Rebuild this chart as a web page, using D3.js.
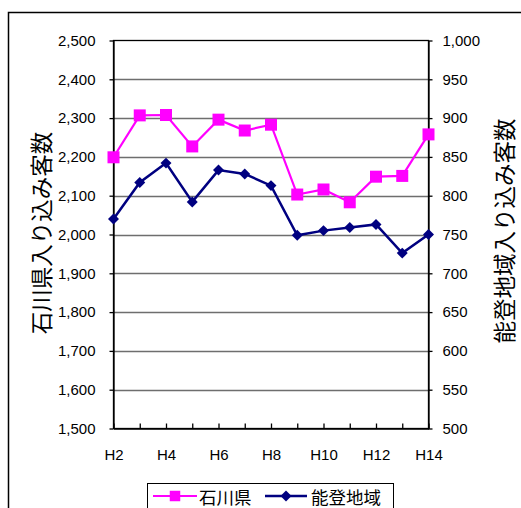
<!DOCTYPE html>
<html>
<head>
<meta charset="utf-8">
<script src="https://cdn.jsdelivr.net/npm/d3@7"></script>
<style>
  html, body { margin: 0; padding: 0; background: #fff; }
  svg { display: block; }
  text { font-family: "Liberation Sans", Arial, sans-serif; fill: #000; }
  .jp { font-family: "Noto Sans CJK JP", sans-serif; }
</style>
</head>
<body>
<script>
// Fiscal years (Heisei)
const years = ["H2","H3","H4","H5","H6","H7","H8","H9","H10","H11","H12","H13","H14"];
// 石川県 入り込み客数 (left axis)
const ishikawa = [2199, 2307, 2308, 2227, 2296, 2268, 2283, 2103, 2116, 2083, 2149, 2151, 2258];
// 能登地域 入り込み客数 (right axis)
const noto = [770, 817, 842, 792, 833, 828, 813, 749, 755, 759, 763, 726, 750];
const leftTicks = [1500,1600,1700,1800,1900,2000,2100,2200,2300,2400,2500];
const rightTicks = [500,550,600,650,700,750,800,850,900,950,1000];
const yearLabels = ["H2","H4","H6","H8","H10","H12","H14"];

const W = 521, H = 508;
const plot = { left: 113.5, right: 428.5, top: 40.5, bottom: 428.5 };

const svg = d3.select("body").append("svg").attr("width", W).attr("height", H);

// outer chart frame
svg.append("rect").attr("x", 8.5).attr("y", 12.5).attr("width", 530).attr("height", 520)
  .attr("fill", "none").attr("stroke", "#000").attr("stroke-width", 1.5);

const x = d3.scalePoint().domain(years).range([plot.left, plot.right]);
const yL = d3.scaleLinear().domain([1500, 2500]).range([plot.bottom, plot.top]);
const yR = d3.scaleLinear().domain([500, 1000]).range([plot.bottom, plot.top]);

// horizontal gridlines
svg.append("g").selectAll("line").data(leftTicks.slice(1, -1)).join("line")
  .attr("x1", plot.left).attr("x2", plot.right)
  .attr("y1", d => Math.round(yL(d)) + 0.5).attr("y2", d => Math.round(yL(d)) + 0.5)
  .attr("stroke", "#6e6e6e").attr("stroke-width", 1.3);

// plot frame
svg.append("rect").attr("x", plot.left).attr("y", plot.top)
  .attr("width", plot.right - plot.left).attr("height", plot.bottom - plot.top)
  .attr("fill", "none").attr("stroke", "#000").attr("stroke-width", 1.3);

// left axis
const gL = svg.append("g").attr("transform", `translate(${plot.left},0)`)
  .call(d3.axisLeft(yL).tickValues(leftTicks).tickFormat(d3.format(",")).tickSize(4).tickPadding(14).tickSizeOuter(0));
// right axis
const gR = svg.append("g").attr("transform", `translate(${plot.right},0)`)
  .call(d3.axisRight(yR).tickValues(rightTicks).tickFormat(d3.format(",")).tickSize(4).tickPadding(10).tickSizeOuter(0));
// bottom axis
const gB = svg.append("g").attr("transform", `translate(0,${plot.bottom})`)
  .call(d3.axisBottom(x).tickSize(-5).tickPadding(21).tickSizeOuter(0)
    .tickFormat(d => yearLabels.includes(d) ? d : ""));

[gL, gR, gB].forEach(g => {
  g.select(".domain").attr("stroke", "#000").attr("stroke-width", 1.3);
  g.selectAll(".tick line").attr("stroke", "#000").attr("stroke-width", 1.3);
  g.selectAll("text").attr("font-size", 15)
    .style("font-family", "'Liberation Sans', Arial, sans-serif").attr("fill", "#000");
});

// axis titles
svg.append("text").attr("class", "jp")
  .attr("transform", "translate(40,233) rotate(-90)")
  .attr("text-anchor", "middle").attr("dominant-baseline", "central")
  .attr("font-size", 22.5).text("石川県入り込み客数");
svg.append("text").attr("class", "jp")
  .attr("transform", "translate(503,231) rotate(-90)")
  .attr("text-anchor", "middle").attr("dominant-baseline", "central")
  .attr("font-size", 22.5).text("能登地域入り込み客数");

const PINK = "#ff00ff", NAVY = "#000080";
const square = d3.symbol().type(d3.symbolSquare).size(144);
const diamond = d3.symbol().type(d3.symbolSquare).size(60);

// 石川県 series
svg.append("path").datum(ishikawa)
  .attr("d", d3.line().x((d, i) => x(years[i])).y(d => yL(d)))
  .attr("fill", "none").attr("stroke", PINK).attr("stroke-width", 2.2);
svg.append("g").selectAll("path").data(ishikawa).join("path")
  .attr("transform", (d, i) => `translate(${x(years[i])},${yL(d)})`)
  .attr("d", square).attr("fill", PINK);

// 能登地域 series
svg.append("path").datum(noto)
  .attr("d", d3.line().x((d, i) => x(years[i])).y(d => yR(d)))
  .attr("fill", "none").attr("stroke", NAVY).attr("stroke-width", 2.5);
svg.append("g").selectAll("path").data(noto).join("path")
  .attr("transform", (d, i) => `translate(${x(years[i])},${yR(d)}) rotate(45)`)
  .attr("d", diamond).attr("fill", NAVY);

// legend
const lg = svg.append("g");
lg.append("rect").attr("x", 147.5).attr("y", 483.5).attr("width", 246).attr("height", 40)
  .attr("fill", "#fff").attr("stroke", "#000").attr("stroke-width", 1);
const ly = 496;
lg.append("line").attr("x1", 153).attr("x2", 197).attr("y1", ly).attr("y2", ly)
  .attr("stroke", PINK).attr("stroke-width", 2.2);
lg.append("path").attr("transform", `translate(175,${ly})`)
  .attr("d", d3.symbol().type(d3.symbolSquare).size(110)).attr("fill", PINK);
lg.append("text").attr("class", "jp").attr("x", 199).attr("y", ly)
  .attr("dominant-baseline", "central").attr("font-size", 17.5).text("石川県");
lg.append("line").attr("x1", 265).attr("x2", 307).attr("y1", ly).attr("y2", ly)
  .attr("stroke", NAVY).attr("stroke-width", 2.5);
lg.append("path").attr("transform", `translate(286,${ly}) rotate(45)`)
  .attr("d", d3.symbol().type(d3.symbolSquare).size(60)).attr("fill", NAVY);
lg.append("text").attr("class", "jp").attr("x", 311).attr("y", ly)
  .attr("dominant-baseline", "central").attr("font-size", 17.5).text("能登地域");
</script>
</body>
</html>
